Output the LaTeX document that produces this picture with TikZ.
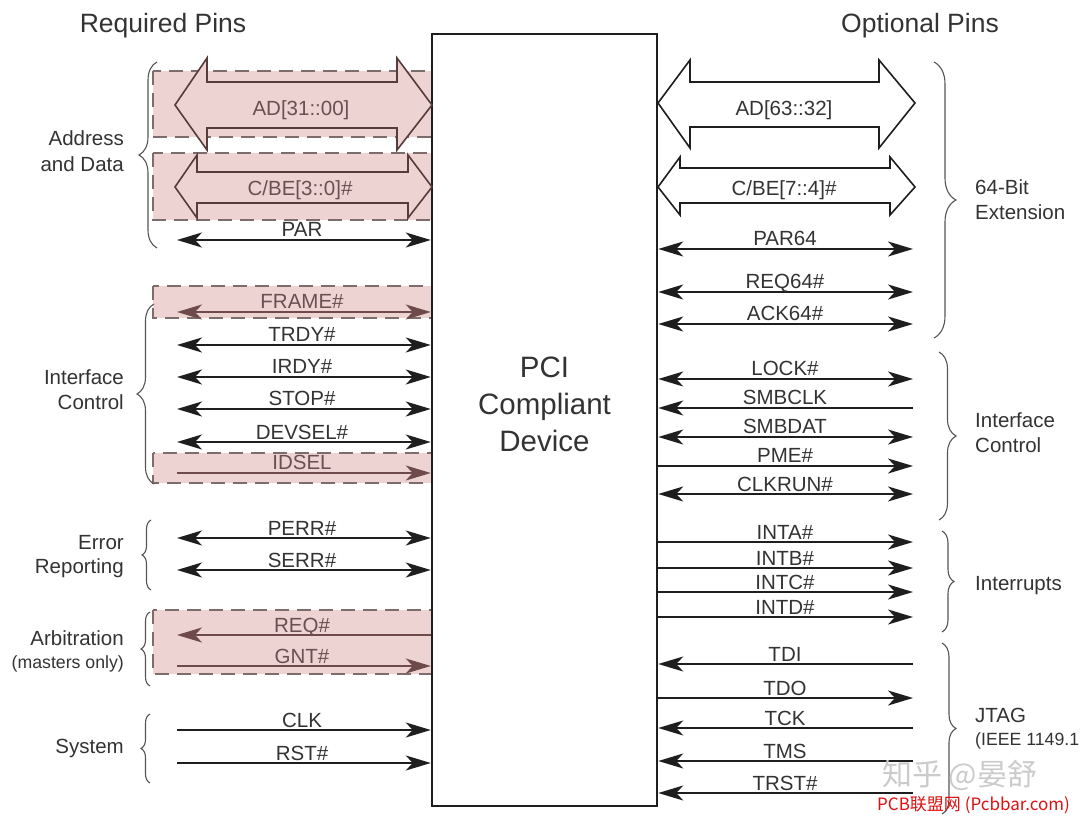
\documentclass[tikz,border=0pt]{standalone}
\usepackage{fontspec}
\setmainfont{Liberation Sans}
\newfontfamily\cjk{Noto Sans CJK SC}
\usetikzlibrary{arrows.meta,decorations.pathreplacing}
\definecolor{ink}{HTML}{1E1E1E}
\definecolor{txt}{HTML}{333333}
\definecolor{pinkbg}{RGB}{238,211,211}
\definecolor{pinkedge}{HTML}{7E6C6C}
\definecolor{pinkink}{HTML}{6E4A4A}
\definecolor{pinktxt}{HTML}{6A5050}
\definecolor{bracec}{HTML}{555555}
\definecolor{wmgray}{HTML}{CBCBCB}
\definecolor{wmred}{HTML}{E01010}
\newcommand\Lpin[5]{%
  \coordinate (#1) at (177,#2);
  \draw[#4,#3] (#1) -- (dev.west |- #1);
  \node[lbl#4] (#1t) at (302,#2-3) {#5};}
\newcommand\Rpin[5]{%
  \coordinate (#1) at (913,#2);
  \draw[#4,#3] (dev.east |- #1) -- (#1);
  \node[lbl#4] (#1t) at (785,#2-3) {#5};}
\begin{document}
\begin{tikzpicture}[x=1pt,y=-1pt,
  >={Stealth[length=25pt,width=15pt,inset=7pt]},
  pin/.style={draw=ink,line width=2.2pt},
  ppin/.style={draw=pinkink,line width=2.2pt},
  lbl/.style={anchor=base,inner sep=0pt,text=txt,font=\fontsize{20.5}{24}\selectfont},
  lblpin/.style={lbl},
  lblppin/.style={lbl,text=pinktxt},
  grpl/.style={anchor=base east,inner sep=0pt,text=txt,font=\fontsize{20.5}{24}\selectfont},
  grpr/.style={anchor=base west,inner sep=0pt,text=txt,font=\fontsize{20.5}{24}\selectfont},
  small/.style={font=\fontsize{17.7}{20}\selectfont},
  zone/.style={fill=pinkbg,draw=pinkedge,line width=1.3pt,dash pattern=on 14pt off 8pt},
  bus/.style={draw=ink,line width=1.6pt,line join=miter},
  brc/.style={draw=bracec,line width=1.1pt,decorate,decoration={brace,amplitude=#1}},
  head/.style={anchor=base,inner sep=0pt,text=txt,font=\fontsize{26.5}{30}\selectfont},
  big/.style={anchor=base,inner sep=0pt,text=txt,font=\fontsize{29.5}{34}\selectfont}]
\useasboundingbox[fill=white] (0,0) rectangle (1080,818);

% pink zones
\draw[zone] (153,71) rectangle (432,137);
\draw[zone] (153,153) rectangle (432,220);
\draw[zone] (153,286) rectangle (432,318);
\draw[zone] (153,453) rectangle (432,483);
\draw[zone] (153,610) rectangle (432,674);

% device
\node[draw=ink,line width=2.5pt,minimum width=225pt,minimum height=772pt,inner sep=0pt] (dev) at (544.5,420) {};
\node[big] (pci1) at (544.5,378) {PCI};
\node[big] (pci2) at (544.5,415) {Compliant};
\node[big] (pci3) at (544.5,452) {Device};

% headings
\node[head] (req) at (163,33) {Required Pins};
\node[head] (opt) at (920,33) {Optional Pins};

% buses
\draw[bus,fill=pinkbg,draw=pinkink!80!black] (175,105) -- (207,58) -- (207,82) -- (397,82) -- (397,58) -- (432,105)
  -- (397,150) -- (397,128) -- (207,128) -- (207,150) -- cycle;
\draw[bus,fill=pinkbg,draw=pinkink!80!black] (175,187) -- (197,155) -- (197,172) -- (408,172) -- (408,155) -- (432,187)
  -- (408,218) -- (408,203) -- (197,203) -- (197,218) -- cycle;
\draw[bus,fill=white] (658,103) -- (690,60) -- (690,82) -- (879,82) -- (879,60) -- (915,103)
  -- (879,148) -- (879,127) -- (690,127) -- (690,148) -- cycle;
\draw[bus,fill=white] (658,187) -- (680,157) -- (680,168) -- (890,168) -- (890,157) -- (915,187)
  -- (890,215) -- (890,203) -- (680,203) -- (680,215) -- cycle;
\node[lblppin] (ad31) at (301,116) {AD[31::00]};
\node[lblppin] (cbe3) at (300,196) {C/BE[3::0]\#};
\node[lblpin] (ad63) at (784,116) {AD[63::32]};
\node[lblpin] (cbe7) at (784,196) {C/BE[7::4]\#};

% left pins
\Lpin{par}{240}{<->}{pin}{PAR}
\Lpin{frame}{312}{<->}{ppin}{FRAME\#}
\Lpin{trdy}{345}{<->}{pin}{TRDY\#}
\Lpin{irdy}{377}{<->}{pin}{IRDY\#}
\Lpin{stop}{409}{<->}{pin}{STOP\#}
\Lpin{devsel}{442}{<->}{pin}{DEVSEL\#}
\Lpin{idsel}{473}{->}{ppin}{IDSEL}
\Lpin{perr}{538}{<->}{pin}{PERR\#}
\Lpin{serr}{570}{<->}{pin}{SERR\#}
\Lpin{reqx}{635}{<-}{ppin}{REQ\#}
\Lpin{gnt}{666}{->}{ppin}{GNT\#}
\Lpin{clk}{730}{->}{pin}{CLK}
\Lpin{rst}{763}{->}{pin}{RST\#}

% right pins
\Rpin{par64}{249}{<->}{pin}{PAR64}
\Rpin{req64}{292}{<->}{pin}{REQ64\#}
\Rpin{ack64}{324}{<->}{pin}{ACK64\#}
\Rpin{lock}{379}{<->}{pin}{LOCK\#}
\Rpin{smbclk}{408}{<-}{pin}{SMBCLK}
\Rpin{smbdat}{437}{<->}{pin}{SMBDAT}
\Rpin{pme}{466}{->}{pin}{PME\#}
\Rpin{clkrun}{494}{<->}{pin}{CLKRUN\#}
\Rpin{inta}{542}{->}{pin}{INTA\#}
\Rpin{intb}{568}{->}{pin}{INTB\#}
\Rpin{intc}{592}{->}{pin}{INTC\#}
\Rpin{intd}{617}{->}{pin}{INTD\#}
\Rpin{tdi}{664}{<-}{pin}{TDI}
\Rpin{tdo}{698}{->}{pin}{TDO}
\Rpin{tck}{728}{<-}{pin}{TCK}
\Rpin{tms}{761}{<-}{pin}{TMS}
\Rpin{trst}{793}{<-}{pin}{TRST\#}

% left braces and group labels
\draw[brc=18pt] (157,248) -- (157,62);
\draw[brc=17pt] (154,484) -- (154,304);
\draw[brc=9pt] (151,590) -- (151,520);
\draw[brc=9pt] (150,686) -- (150,612);
\draw[brc=9pt] (150,783) -- (150,714);
\node[grpl] (g1a) at (124,146) {Address};
\node[grpl] (g1b) at (124,172) {and Data};
\node[grpl] (g2a) at (124,385) {Interface};
\node[grpl] (g2b) at (124,410) {Control};
\node[grpl] (g3a) at (124,549) {Error};
\node[grpl] (g3b) at (124,573) {Reporting};
\node[grpl] (g4a) at (124,645) {Arbitration};
\node[grpl,small] (g4b) at (124,668) {(masters only)};
\node[grpl] (g5a) at (124,753) {System};

% right braces and group labels
\draw[brc=22pt] (934,62) -- (934,338);
\draw[brc=17pt] (939,352) -- (939,520);
\draw[brc=12pt] (942,531) -- (942,632);
\draw[brc=14pt] (942,643) -- (942,814);
\node[grpr] (h1a) at (975,195) {64-Bit};
\node[grpr] (h1b) at (975,220) {Extension};
\node[grpr] (h2a) at (975,428) {Interface};
\node[grpr] (h2b) at (975,453) {Control};
\node[grpr] (h3a) at (975,590) {Interrupts};
\node[grpr] (h4a) at (975,722) {JTAG};
\node[grpr,small] (h4b) at (975,745) {(IEEE 1149.1};

% watermarks
\node[anchor=base west,inner sep=0pt,text=wmgray,font=\cjk\fontsize{30}{32}\selectfont] (wm1) at (882,785) {知乎 @晏舒};
\node[anchor=base west,inner sep=0pt,text=wmred,font=\cjk\fontsize{17}{19}\selectfont] (wm2) at (877,810) {PCB联盟网 (Pcbbar.com)};
\end{tikzpicture}
\end{document}
